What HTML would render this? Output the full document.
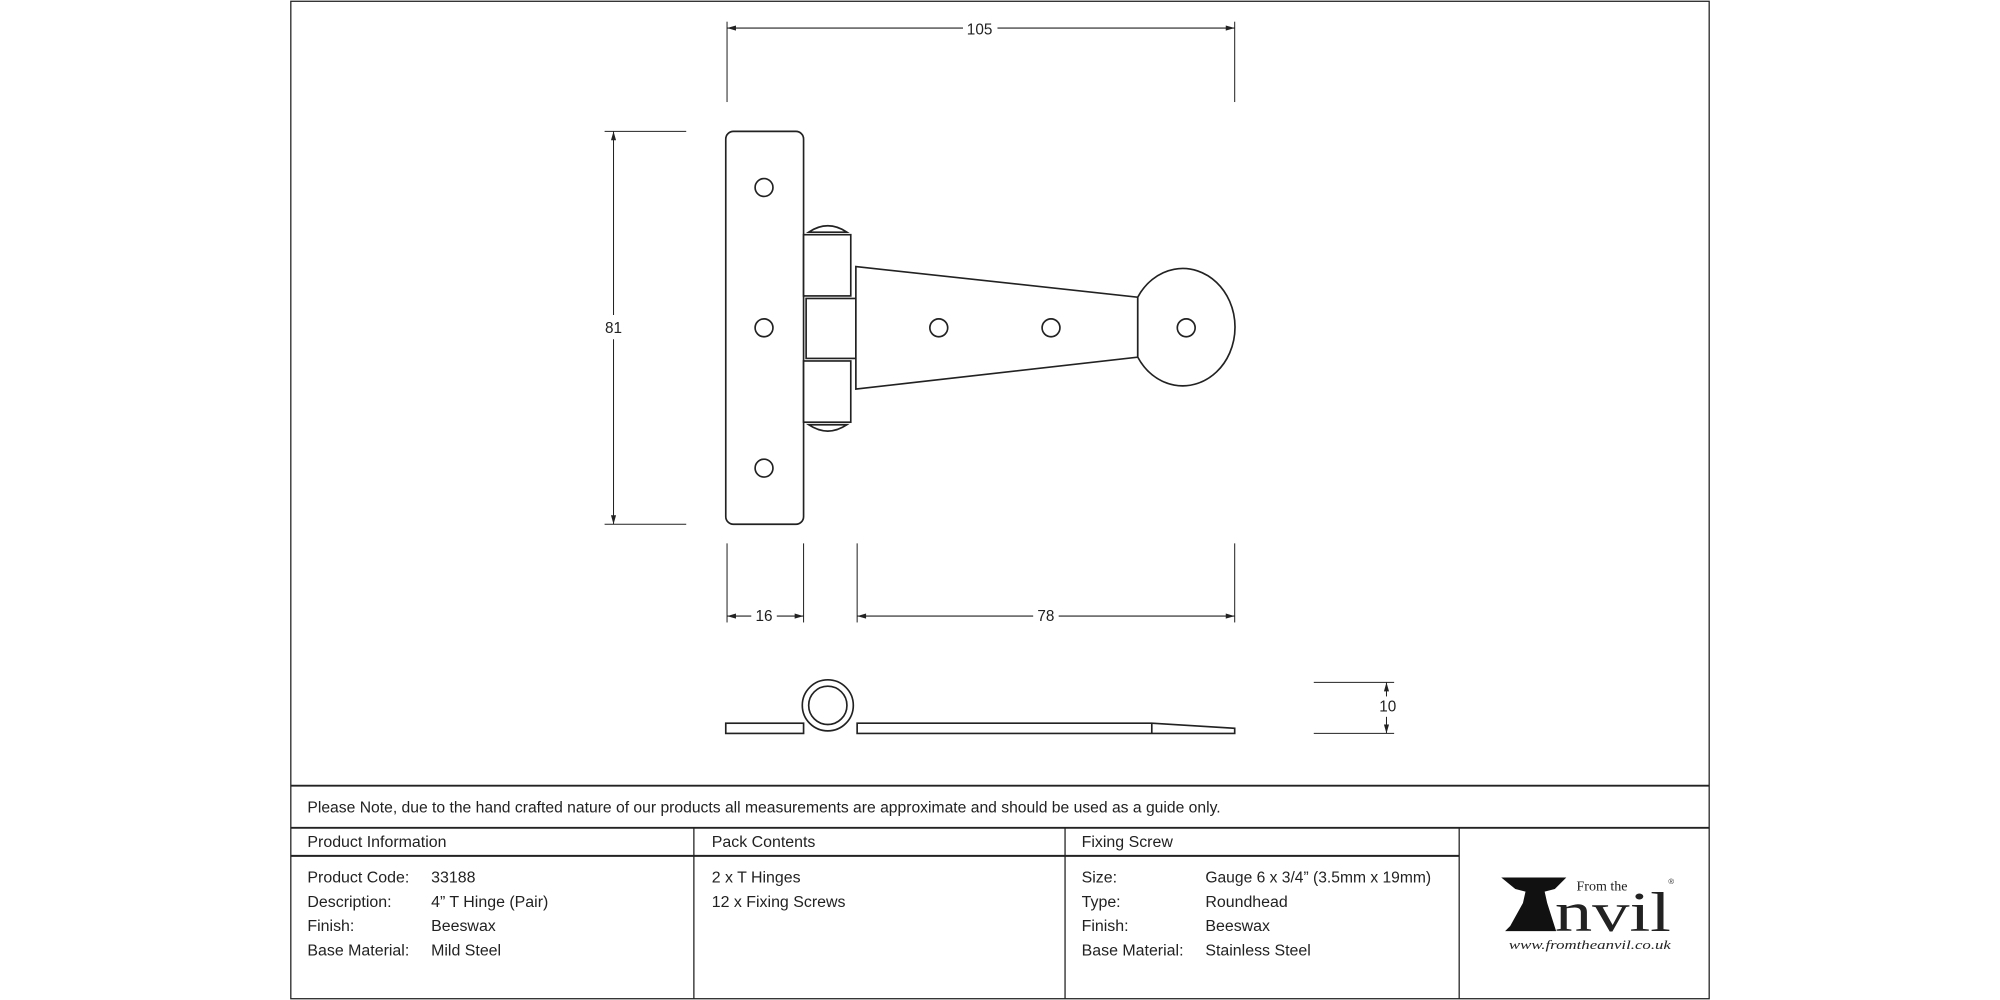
<!DOCTYPE html>
<html><head><meta charset="utf-8"><style>
html,body{margin:0;padding:0;background:#fff;width:2000px;height:1000px;overflow:hidden}
svg{display:block}
text{font-family:"Liberation Sans Narrow","Liberation Sans",sans-serif;fill:#222}
</style></head><body>
<svg width="2000" height="1000" viewBox="0 0 1568 784" xmlns="http://www.w3.org/2000/svg">
<g fill="none" stroke="#222" stroke-width="1">
<rect x="228" y="1" width="1112" height="782"/>
<line x1="228" y1="616" x2="1340" y2="616" stroke-width="1.5"/>
<line x1="228" y1="649" x2="1340" y2="649" stroke-width="1.5"/>
<line x1="228" y1="671" x2="1144" y2="671" stroke-width="1.5"/>
<line x1="544" y1="649" x2="544" y2="783"/>
<line x1="835" y1="649" x2="835" y2="783"/>
<line x1="1144" y1="649" x2="1144" y2="783"/>
</g>
<g fill="none" stroke="#222" stroke-width="0.8">
<line x1="570" y1="17" x2="570" y2="80"/><line x1="968" y1="17" x2="968" y2="80"/>
<line x1="570" y1="22" x2="755" y2="22"/><line x1="782" y1="22" x2="968" y2="22"/>
<line x1="474" y1="103" x2="538" y2="103"/><line x1="474" y1="411" x2="538" y2="411"/>
<line x1="481" y1="103" x2="481" y2="247"/><line x1="481" y1="266" x2="481" y2="411"/>
<line x1="570" y1="426" x2="570" y2="488"/><line x1="630" y1="426" x2="630" y2="488"/>
<line x1="672" y1="426" x2="672" y2="488"/><line x1="968" y1="426" x2="968" y2="488"/>
<line x1="570" y1="483" x2="589" y2="483"/><line x1="609" y1="483" x2="630" y2="483"/>
<line x1="672" y1="483" x2="810" y2="483"/><line x1="830" y1="483" x2="968" y2="483"/>
<line x1="1030" y1="535" x2="1093" y2="535"/><line x1="1030" y1="575" x2="1093" y2="575"/>
<line x1="1087" y1="535" x2="1087" y2="546"/><line x1="1087" y1="562" x2="1087" y2="575"/>
</g>
<g fill="#222">
<path d="M570 22 l7 -2 v4z M968 22 l-7 -2 v4z"/>
<path d="M481 103 l-2 7 h4z M481 411 l-2 -7 h4z"/>
<path d="M570 483 l7 -2 v4z M630 483 l-7 -2 v4z M672 483 l7 -2 v4z M968 483 l-7 -2 v4z"/>
<path d="M1087 535 l-2 7 h4z M1087 575 l-2 -7 h4z"/>
</g>
<g fill="#fff" stroke="#222" stroke-width="1.3">
<rect x="569" y="103" width="61" height="308" rx="6"/>
<path d="M634 182 q15 -10 30 0z M634 333 q15 10 30 0z"/>
<rect x="630" y="184" width="37" height="48"/>
<rect x="630" y="283" width="37" height="48"/>
<rect x="632" y="234" width="39" height="47"/>
<path d="M671 209 L892 233 L892 280 L671 305 Z"/>
<path d="M892 233 A41 46 0 1 1 892 280 Z"/>
<circle cx="599" cy="147" r="7"/><circle cx="599" cy="257" r="7"/><circle cx="599" cy="367" r="7"/>
<circle cx="736" cy="257" r="7"/><circle cx="824" cy="257" r="7"/><circle cx="930" cy="257" r="7"/>
<rect x="569" y="567" width="61" height="8"/>
<path d="M672 567 L903 567 L968 571 L968 575 L672 575 Z"/>
<line x1="903" y1="567" x2="903" y2="575"/>
<circle cx="649" cy="553" r="20"/>
<circle cx="649" cy="553" r="15"/>
</g>
<g font-size="12" text-anchor="middle">
<text x="768" y="27">105</text>
<text x="481" y="261">81</text>
<text x="599" y="487">16</text>
<text x="820" y="487">78</text>
<text x="1088" y="558">10</text>
</g>
<g font-size="12.5">
<text x="241" y="637" textLength="716" lengthAdjust="spacingAndGlyphs">Please Note, due to the hand crafted nature of our products all measurements are approximate and should be used as a guide only.</text>
<text x="241" y="664">Product Information</text>
<text x="558" y="664">Pack Contents</text>
<text x="848" y="664">Fixing Screw</text>
<text x="241" y="692">Product Code:</text><text x="338" y="692">33188</text>
<text x="241" y="711">Description:</text><text x="338" y="711">4” T Hinge (Pair)</text>
<text x="241" y="730">Finish:</text><text x="338" y="730">Beeswax</text>
<text x="241" y="749">Base Material:</text><text x="338" y="749">Mild Steel</text>
<text x="558" y="692">2 x T Hinges</text>
<text x="558" y="711">12 x Fixing Screws</text>
<text x="848" y="692">Size:</text><text x="945" y="692" textLength="177" lengthAdjust="spacingAndGlyphs">Gauge 6 x 3/4” (3.5mm x 19mm)</text>
<text x="848" y="711">Type:</text><text x="945" y="711">Roundhead</text>
<text x="848" y="730">Finish:</text><text x="945" y="730">Beeswax</text>
<text x="848" y="749">Base Material:</text><text x="945" y="749">Stainless Steel</text>
</g>
<g>
<path d="M1177 688 L1228 688 L1219 697 L1211 699 L1213 708 L1220 730 L1180 730 L1184 726 L1194 708 L1196 699 L1188 697 Z" fill="#111"/>
<text x="1236" y="698" font-size="11" style="font-family:'Liberation Serif',serif">From the</text>
<text x="1219" y="730" font-size="44" textLength="91" lengthAdjust="spacingAndGlyphs" style="font-family:'Liberation Serif',serif" fill="#111">nvil</text>
<text x="1308" y="693" font-size="6">®</text>
<text x="1183" y="744" font-size="10" font-style="italic" textLength="127" lengthAdjust="spacingAndGlyphs" style="font-family:'Liberation Serif',serif">www.fromtheanvil.co.uk</text>
</g>
</svg>
</body></html>
